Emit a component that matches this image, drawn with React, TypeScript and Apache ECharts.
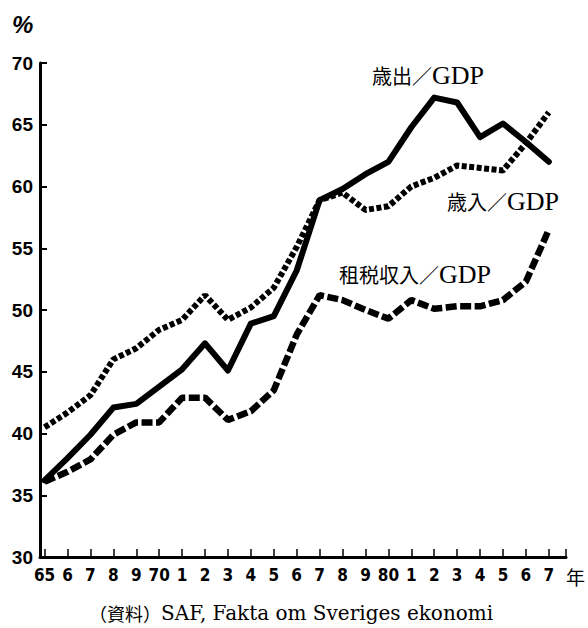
import React, { useEffect, useRef } from "react";
import * as echarts from "echarts";

const years = [65, 66, 67, 68, 69, 70, 71, 72, 73, 74, 75, 76, 77, 78, 79, 80, 81, 82, 83, 84, 85, 86, 87];
const yearLabels = ["65", "6", "7", "8", "9", "70", "1", "2", "3", "4", "5", "6", "7", "8", "9", "80", "1", "2", "3", "4", "5", "6", "7"];
const expenditure = [36.2, 38.0, 39.9, 42.1, 42.4, 43.8, 45.2, 47.3, 45.1, 48.9, 49.5, 53.2, 58.9, 59.8, 61.0, 62.0, 64.8, 67.2, 66.8, 64.0, 65.1, 63.6, 62.0];
const revenue = [40.5, 41.7, 43.1, 46.0, 46.9, 48.4, 49.2, 51.2, 49.2, 50.2, 51.8, 55.1, 58.9, 59.5, 58.1, 58.4, 60.0, 60.7, 61.7, 61.5, 61.3, 63.5, 66.0];
const taxRevenue = [36.1, 36.9, 37.9, 39.9, 40.9, 40.9, 42.9, 42.9, 41.1, 41.8, 43.5, 48.0, 51.2, 50.8, 50.0, 49.3, 50.8, 50.1, 50.3, 50.3, 50.8, 52.3, 56.5];
const yTicks = [30, 35, 40, 45, 50, 55, 60, 65, 70];

const latinSerif = "'Liberation Serif', 'Noto Sans CJK JP', serif";
const cjkFont = "'Noto Sans CJK JP', sans-serif";

const richStyles = {
  k: { fontSize: 20, fontFamily: cjkFont, fill: "#000" },
  g: { fontSize: 26, fontFamily: latinSerif, fill: "#000" },
};

export default function App() {
  const ref = useRef<HTMLDivElement>(null);
  useEffect(() => {
    document.body.style.margin = "0";
    if (!ref.current) return;
    const chart = echarts.init(ref.current, null, { renderer: "svg" });
    const pair = (arr: number[]) => years.map((y, i) => [y, arr[i]]);
    const labelMap: Record<number, string> = {};
    years.forEach((y, i) => (labelMap[y] = yearLabels[i]));
    chart.setOption({
      animation: false,
      backgroundColor: "#ffffff",
      grid: { left: 40, right: 22, top: 63, bottom: 71, containLabel: false, outerBoundsMode: "none" },
      xAxis: {
        type: "value",
        min: 64.8,
        max: 87.75,
        axisLine: { show: true, lineStyle: { color: "#000", width: 3 } },
        axisTick: { show: true, inside: true, length: 8, lineStyle: { color: "#000", width: 1.5 }, customValues: [...years, 87.75] },
        axisLabel: {
          customValues: years,
          formatter: (v: number) => labelMap[Math.round(v)] ?? "",
          color: "#000",
          fontSize: 17,
          fontWeight: "bold",
          fontFamily: "'Liberation Sans Narrow', 'DejaVu Sans Condensed', 'Liberation Sans', sans-serif",
          margin: 9,
        },
        splitLine: { show: false },
      },
      yAxis: {
        type: "value",
        min: 30,
        max: 70,
        interval: 5,
        axisLine: { show: true, lineStyle: { color: "#000", width: 3 } },
        axisTick: { show: true, inside: true, length: 7, lineStyle: { color: "#000", width: 2 }, customValues: yTicks },
        axisLabel: {
          color: "#000",
          fontSize: 19,
          fontWeight: "bold",
          fontFamily: "'Liberation Sans', Arial, sans-serif",
          margin: 7,
        },
        splitLine: { show: false },
      },
      series: [
        {
          name: "歳出／GDP",
          type: "line",
          data: pair(expenditure),
          symbol: "none",
          lineStyle: { color: "#000", width: 6, type: "solid", join: "round", cap: "round" },
        },
        {
          name: "歳入／GDP",
          type: "line",
          data: pair(revenue),
          symbol: "none",
          lineStyle: { color: "#000", width: 6, type: [5, 2.5], cap: "butt" },
        },
        {
          name: "租税収入／GDP",
          type: "line",
          data: pair(taxRevenue),
          symbol: "none",
          lineStyle: { color: "#000", width: 6.5, type: [11, 3.5], cap: "butt" },
        },
      ],
      graphic: [
        { type: "text", left: 12, top: 12, style: { text: "%", fontSize: 24, fontStyle: "italic", fontWeight: "bold", fontFamily: "'Liberation Sans', sans-serif", fill: "#000" } },
        { type: "text", x: 372, y: 75, style: { text: "{k|歳出／}{g|GDP}", rich: richStyles, verticalAlign: "middle" } },
        { type: "text", x: 447, y: 201, style: { text: "{k|歳入／}{g|GDP}", rich: richStyles, verticalAlign: "middle" } },
        { type: "text", x: 339, y: 274, style: { text: "{k|租税収入／}{g|GDP}", rich: richStyles, verticalAlign: "middle" } },
        { type: "text", x: 566, y: 576, style: { text: "年", fontSize: 19, fontFamily: cjkFont, fill: "#000", verticalAlign: "middle", align: "left" } },
        {
          type: "text",
          x: 89,
          y: 613,
          style: {
            text: "{k|（資料）}{g|SAF, Fakta om Sveriges ekonomi}",
            rich: {
              k: { fontSize: 18, fontFamily: cjkFont, fill: "#000" },
              g: { fontSize: 20, fontFamily: "'DejaVu Serif', 'Liberation Serif', serif", fill: "#000" },
            },
            verticalAlign: "middle",
            align: "left",
          },
        },
      ],
    });
    return () => chart.dispose();
  }, []);
  return <div ref={ref} style={{ width: 588, height: 628, position: "absolute", left: 0, top: 0 }} />;
}
